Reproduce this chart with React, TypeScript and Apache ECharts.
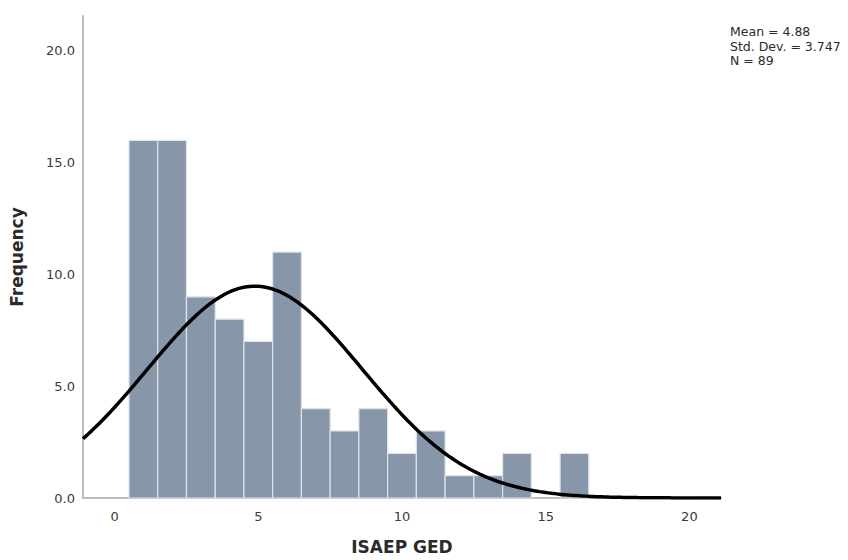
import React, { useEffect, useRef } from "react";
import * as echarts from "echarts";

// Histogram bins of width 1, given by their centres
const binCenters = [1, 2, 3, 4, 5, 6, 7, 8, 9, 10, 11, 12, 13, 14, 15, 16];
const binCounts = [16, 16, 9, 8, 7, 11, 4, 3, 4, 2, 3, 1, 1, 2, 0, 2];

const xTicks = [0, 5, 10, 15, 20];
const yTicks = [0, 5, 10, 15, 20];

// Summary statistics shown in the corner
const statMean = 4.88;
const statSd = 3.747;
const statN = 89;
const binWidth = 1;

const xMin = -1.1;
const xMax = 21.1;
const yMax = 21.56;

// Fitted normal curve scaled to counts: N * width * pdf(x)
function normalCurve(): number[][] {
  const pts: number[][] = [];
  const steps = 222;
  for (let i = 0; i <= steps; i++) {
    const x = xMin + ((xMax - xMin) * i) / steps;
    const z = (x - statMean) / statSd;
    const y = (statN * binWidth * Math.exp(-0.5 * z * z)) / (statSd * Math.sqrt(2 * Math.PI));
    pts.push([x, y]);
  }
  return pts;
}

export default function App() {
  const ref = useRef<HTMLDivElement>(null);

  useEffect(() => {
    document.body.style.margin = "0";
    if (!ref.current) return;
    const chart = echarts.init(ref.current, null, { renderer: "svg" });
    const font = "DejaVu Sans";
    const axisLineColor = "#bcbcbc";

    const statLines = [
      `Mean = ${statMean.toFixed(2)}`,
      `Std. Dev. = ${statSd.toFixed(3)}`,
      `N = ${statN}`,
    ];

    chart.setOption({
      animation: false,
      backgroundColor: "#ffffff",
      grid: { left: 81, right: 127, top: 16, bottom: 59, containLabel: false },
      xAxis: {
        type: "value",
        min: xMin,
        max: xMax,
        name: "ISAEP GED",
        nameLocation: "middle",
        nameGap: 40,
        nameTextStyle: { fontFamily: font, fontSize: 17, fontWeight: "bold", color: "#2b2b2b" },
        axisLine: { show: true, onZero: false, lineStyle: { color: axisLineColor, width: 2 } },
        axisTick: { show: false },
        splitLine: { show: false },
        axisLabel: {
          customValues: xTicks,
          formatter: (v: number) => String(v),
          fontFamily: font,
          fontSize: 13,
          color: "#3a3a3a",
          margin: 12,
        },
      },
      yAxis: {
        type: "value",
        min: 0,
        max: yMax,
        name: "Frequency",
        nameLocation: "middle",
        nameGap: 58,
        nameTextStyle: { fontFamily: font, fontSize: 17, fontWeight: "bold", color: "#2b2b2b" },
        axisLine: { show: true, onZero: false, lineStyle: { color: axisLineColor, width: 2 } },
        axisTick: { show: false },
        splitLine: { show: false },
        axisLabel: {
          customValues: yTicks,
          formatter: (v: number) => v.toFixed(1),
          fontFamily: font,
          fontSize: 13,
          color: "#3a3a3a",
          margin: 8,
        },
      },
      graphic: statLines.map((t, i) => ({
        type: "text",
        left: 730,
        top: 25 + i * 14.6,
        style: {
          text: t,
          fontFamily: font,
          fontSize: 12.5,
          fill: "#2b2b2b",
        },
      })),
      series: [
        {
          type: "custom",
          data: binCenters.map((c, i) => [c, binCounts[i]]),
          renderItem: (params: any, api: any) => {
            const x = api.value(0);
            const y = api.value(1);
            if (!y) return null;
            const p0 = api.coord([x - binWidth / 2, y]);
            const p1 = api.coord([x + binWidth / 2, 0]);
            return {
              type: "rect",
              shape: { x: p0[0], y: p0[1], width: p1[0] - p0[0], height: p1[1] - p0[1] },
              style: { fill: "#8896aa", stroke: "#dfe4ea", lineWidth: 1.2 },
            };
          },
          z: 2,
        },
        {
          type: "line",
          data: normalCurve(),
          showSymbol: false,
          smooth: false,
          lineStyle: { color: "#000000", width: 3.5 },
          z: 3,
        },
      ],
    });

    return () => chart.dispose();
  }, []);

  return <div ref={ref} style={{ width: 848, height: 560 }} />;
}
